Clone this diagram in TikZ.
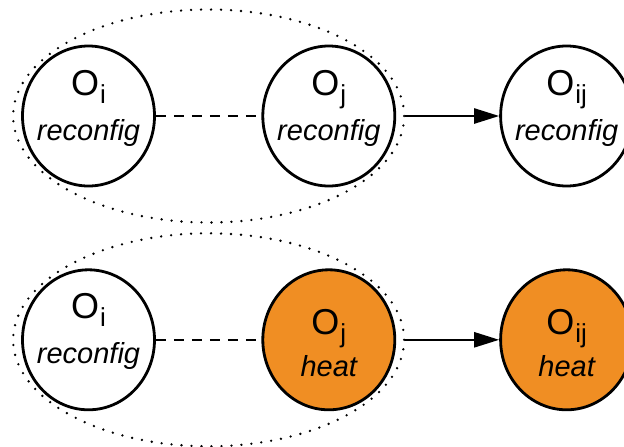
\documentclass[tikz,border=0pt]{standalone}
\usepackage{fontspec}
\setmainfont{Liberation Sans}
\usetikzlibrary{shapes.geometric, arrows.meta, positioning, calc}
\definecolor{heatcolor}{RGB}{240, 142, 35}
\newcommand{\objsub}[1]{\hspace{0.5pt}\raisebox{-4pt}{\fontsize{13}{15}\selectfont #1}}

\begin{document}
\begin{tikzpicture}[
    node distance=40.5pt and 52.75pt,
    object/.style={draw, ellipse, line width=1.4pt, fill=white, minimum width=66pt, minimum height=70pt, inner sep=0pt, text height=0pt, text depth=21pt, font=\fontsize{18}{21}\selectfont},
    heated/.style={fill=heatcolor, text depth=5.5pt},
    role/.style={inner sep=0pt, font=\fontsize{14.5}{17}\selectfont\itshape},
    group/.style={draw, ellipse, line width=1.3pt, dash pattern=on 0pt off 5pt, line cap=round, minimum width=195.5pt, minimum height=106.5pt, inner sep=0pt},
    link/.style={line width=1.3pt, dash pattern=on 5pt off 4pt},
    arrow/.style={-{Triangle[length=12.5pt, width=7.5pt]}, line width=1.2pt}
]
    \useasboundingbox (0,0) rectangle (312pt,223pt);

    % Reconfiguration pair
    \node[object, label={[role, yshift=-8.3pt]center:reconfig}] (oi1) at (44.25pt,165pt) {O\objsub{i}};
    \node[object, label={[role, yshift=-8.3pt]center:reconfig}, right=of oi1] (oj1) {O\objsub{j}};
    \node[object, label={[role, yshift=-8.3pt]center:reconfig}, right=51.5pt of oj1] (oij1) {O\objsub{ij}};

    % Heat pair
    \node[object, label={[role, yshift=-8.3pt]center:reconfig}, below=of oi1] (oi2) {O\objsub{i}};
    \node[object, heated, label={[role, yshift=-13.2pt]center:heat}, below=of oj1] (oj2) {O\objsub{j}};
    \node[object, heated, label={[role, yshift=-13.2pt]center:heat}, below=of oij1] (oij2) {O\objsub{ij}};

    % Groups around each pair
    \node[group] (pair1) at ($(oi1)!0.5!(oj1)$) {};
    \node[group] (pair2) at ($(oi2)!0.5!(oj2)$) {};

    % Links
    \draw[link] (oi1) -- (oj1);
    \draw[link] (oi2) -- (oj2);
    \draw[arrow] (pair1) -- (oij1);
    \draw[arrow] (pair2) -- (oij2);
\end{tikzpicture}
\end{document}
